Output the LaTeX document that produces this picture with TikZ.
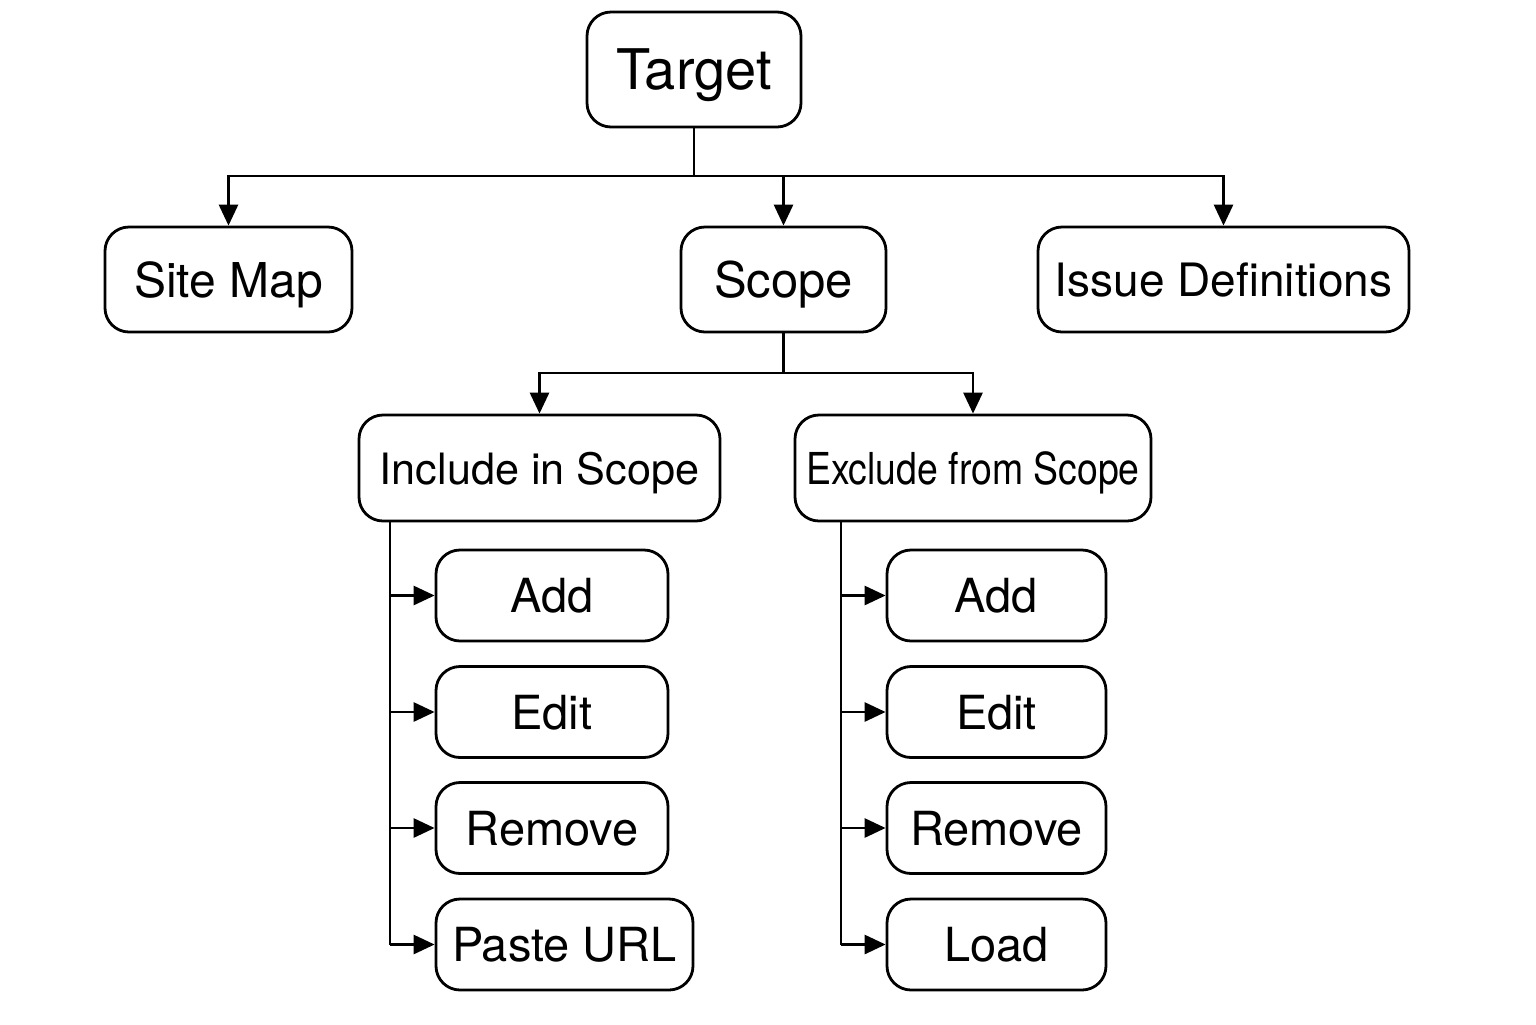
\documentclass[tikz,border=0pt]{standalone}
\usepackage{fontspec}
\setmainfont{TeX Gyre Heros}
\usetikzlibrary{arrows.meta}

\begin{document}
\begin{tikzpicture}[x=0.5pt,y=-0.5pt,line width=1.4pt,
  box/.style={draw,rounded corners=12pt,inner sep=0pt,text depth=0pt,align=center},
  arr/.style={-{Triangle[length=10.5pt,width=9.5pt]}}]
\useasboundingbox (0,0) rectangle (1536,1024);
% top level
\node[box,minimum width=107pt,minimum height=57.5pt,font=\fontsize{28}{32}\selectfont] (target) at (694,69.5) {Target};
\node[box,minimum width=123.5pt,minimum height=52.5pt,font=\fontsize{24}{30}\selectfont] (sitemap) at (228.5,279.5) {Site Map};
\node[box,minimum width=102.5pt,minimum height=52.5pt,font=\fontsize{24.5}{30}\selectfont] (scope) at (783.5,279.5) {Scope};
\node[box,minimum width=185.5pt,minimum height=52.5pt,font=\fontsize{23}{30}\selectfont] (issues) at (1223.5,279.5) {Issue Definitions};
\coordinate (tj) at (694,176);
\draw (target.south) -- (tj);
\draw[arr] (tj) -| (sitemap.north);
\draw[arr] (tj) -| (issues.north);
\draw[arr] (scope.north |- tj) -- (scope.north);
% scope branches
\node[box,minimum width=180.5pt,minimum height=53pt,font=\fontsize{21.6}{26}\selectfont] (include) at (539.5,468) {Include in Scope};
\node[box,minimum width=178pt,minimum height=53pt,font=\fontsize{22}{26}\selectfont] (exclude) at (973,468) {\scalebox{0.85}[1]{Exclude from Scope}};
\coordinate (sj) at (783.5,373);
\draw (scope.south) -- (sj);
\draw[arr] (sj) -| (include.north);
\draw[arr] (sj) -| (exclude.north);
% include children
\foreach \n/\t/\y in {iadd/Add/595.5,iedit/Edit/712,iremove/Remove/828}
  \node[box,minimum width=116pt,minimum height=45.5pt,font=\fontsize{23.5}{28}\selectfont] (\n) at (552,\y) {\t};
\node[box,minimum width=128.5pt,minimum height=45.5pt,font=\fontsize{23.5}{28}\selectfont] (ipaste) at (564.5,944.5) {Paste URL};
\coordinate (ispine) at (390,0);
\draw (include.south -| ispine) -- (ipaste.west -| ispine);
\foreach \n in {iadd,iedit,iremove,ipaste}
  \draw[arr] (\n.west -| ispine) -- (\n.west);
% exclude children
\foreach \n/\t/\y in {eadd/Add/595.5,eedit/Edit/712,eremove/Remove/828,eload/Load/944.5}
  \node[box,minimum width=109.5pt,minimum height=45.5pt,font=\fontsize{23.5}{28}\selectfont] (\n) at (996.5,\y) {\t};
\coordinate (espine) at (841,0);
\draw (exclude.south -| espine) -- (eload.west -| espine);
\foreach \n in {eadd,eedit,eremove,eload}
  \draw[arr] (\n.west -| espine) -- (\n.west);
\end{tikzpicture}
\end{document}
